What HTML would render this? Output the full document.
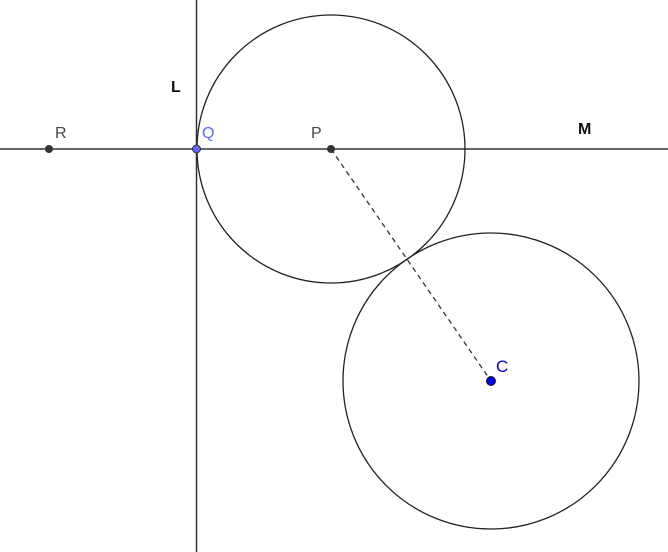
<!DOCTYPE html>
<html><head><style>body{margin:0;background:#fff}svg{display:block}</style></head>
<body>
<svg width="668" height="552" xmlns="http://www.w3.org/2000/svg" font-family="Liberation Sans, sans-serif">
<line x1="0" y1="149" x2="668" y2="149" stroke="#333" stroke-width="1.5"/>
<line x1="196.5" y1="0" x2="196.5" y2="552" stroke="#333" stroke-width="1.5"/>
<circle cx="331" cy="149" r="134" fill="none" stroke="#222" stroke-width="1.3"/>
<circle cx="491" cy="381" r="148" fill="none" stroke="#222" stroke-width="1.3"/>
<line x1="331" y1="149" x2="491" y2="381" stroke="#333" stroke-width="1.3" stroke-dasharray="5,4"/>
<circle cx="49" cy="149" r="4" fill="#333"/>
<circle cx="331" cy="149" r="4" fill="#333"/>
<circle cx="196.5" cy="149" r="4" fill="#6666ff" stroke="#333" stroke-width="1"/>
<circle cx="491" cy="381" r="4.5" fill="#0000ee" stroke="#222" stroke-width="1"/>
<text x="55" y="138" font-size="16" fill="#444">R</text>
<text x="202" y="138" font-size="16" fill="#6666ff">Q</text>
<text x="311" y="138" font-size="16" fill="#444">P</text>
<text x="496" y="372" font-size="17" fill="#0000ee">C</text>
<text x="171" y="92" font-size="16" font-weight="bold" fill="#111">L</text>
<text x="578" y="134" font-size="16" font-weight="bold" fill="#111">M</text>
</svg>
</body></html>
